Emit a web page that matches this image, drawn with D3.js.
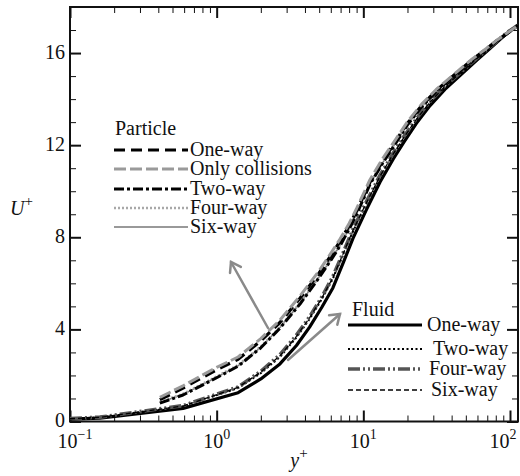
<!DOCTYPE html>
<html>
<head>
<meta charset="utf-8">
<script src="https://cdn.jsdelivr.net/npm/d3@7"></script>
<style>
  html, body { margin: 0; padding: 0; background: #fff; }
  svg { display: block; }
</style>
</head>
<body>
<svg id="chart" width="520" height="476"></svg>
<script>
// Mean streamwise velocity profiles in wall units
const fluidYPlus    = [0.1, 0.16, 0.59, 1.4, 2.0, 2.7, 3.5, 4.3, 5.2, 6.2, 7.3, 8.5, 10.5, 13, 16, 19, 23, 28.5, 36, 48, 60, 73, 85, 95, 105, 113.4];
const fluidOneWay   = [0.10, 0.15, 0.57, 1.25, 1.85, 2.5, 3.3, 4.1, 4.95, 5.8, 6.9, 7.95, 9.2, 10.4, 11.4, 12.15, 12.95, 13.72, 14.42, 15.15, 15.72, 16.2, 16.58, 16.85, 17.05, 17.2];
const fluidTwoWay   = [0.12, 0.18, 0.66, 1.45, 2.1, 2.8, 3.65, 4.45, 5.3, 6.2, 7.25, 8.25, 9.45, 10.6, 11.58, 12.32, 13.08, 13.84, 14.52, 15.22, 15.77, 16.24, 16.6, 16.87, 17.06, 17.2];
const fluidFourWay  = [0.13, 0.19, 0.69, 1.5, 2.18, 2.9, 3.75, 4.55, 5.4, 6.3, 7.35, 8.35, 9.55, 10.7, 11.66, 12.4, 13.15, 13.9, 14.57, 15.26, 15.8, 16.26, 16.62, 16.88, 17.07, 17.22];
const fluidSixWay   = [0.12, 0.18, 0.67, 1.48, 2.15, 2.85, 3.7, 4.5, 5.35, 6.25, 7.3, 8.3, 9.5, 10.65, 11.62, 12.36, 13.12, 13.87, 14.55, 15.24, 15.78, 16.25, 16.61, 16.87, 17.06, 17.2];

const particleYPlus      = [0.41, 0.59, 1.0, 1.4, 2.0, 2.7, 3.7, 5.0, 6.0, 6.9, 8, 9, 11.1, 13.5, 16.5, 20, 25, 32, 43, 55, 69, 82, 95, 105, 113.4];
const particleOneWay     = [0.95, 1.45, 2.25, 2.7, 3.5, 4.3, 5.35, 6.45, 7.2, 7.8, 8.5, 9.15, 10.4, 11.3, 12.15, 12.95, 13.72, 14.42, 15.12, 15.7, 16.18, 16.56, 16.84, 17.04, 17.2];
const particleCollisions = [1.05, 1.55, 2.35, 2.8, 3.6, 4.4, 5.45, 6.55, 7.3, 7.9, 8.6, 9.25, 10.5, 11.4, 12.22, 13.02, 13.78, 14.47, 15.16, 15.73, 16.2, 16.58, 16.86, 17.05, 17.2];
const particleTwoWay     = [0.8, 1.15, 1.9, 2.4, 3.2, 4.05, 5.1, 6.25, 7.0, 7.6, 8.35, 9.0, 10.3, 11.2, 12.05, 12.88, 13.66, 14.38, 15.08, 15.67, 16.16, 16.55, 16.83, 17.04, 17.2];
const particleFourWay    = [0.85, 1.2, 1.95, 2.45, 3.25, 4.1, 5.15, 6.3, 7.05, 7.65, 8.4, 9.05, 10.35, 11.25, 12.1, 12.92, 13.7, 14.4, 15.1, 15.69, 16.18, 16.56, 16.84, 17.04, 17.2];
const particleSixWay     = [0.82, 1.18, 1.92, 2.42, 3.22, 4.08, 5.12, 6.28, 7.02, 7.62, 8.38, 9.02, 10.32, 11.22, 12.08, 12.9, 13.68, 14.39, 15.09, 15.68, 16.17, 16.55, 16.84, 17.04, 17.2];

const xMajorTicks = [0.1, 1, 10, 100];
const xTickExponents = ["\u22121", "0", "1", "2"];
const yMajorTicks = [0, 4, 8, 12, 16];

const FONT = "'Liberation Serif', 'Times New Roman', Times, serif";
const svg = d3.select("#chart").attr("font-family", FONT);
const plotLeft = 70, plotRight = 518, plotTop = 7, plotBottom = 421.5;

const x = d3.scaleLog().domain([0.1, 113.4]).range([plotLeft, plotRight]);
const y = d3.scaleLinear().domain([0, 18]).range([plotBottom, plotTop]);

// minor tick values
const xMinor = [];
[0.1, 1, 10].forEach(d => { for (let k = 2; k <= 9; k++) xMinor.push(d * k); });
const yMinor = d3.range(0, 19).filter(v => v % 4 !== 0);

function tickAxis(axis, transform, size, values, width) {
  const g = svg.append("g").attr("transform", transform)
    .call(axis.tickValues(values).tickSize(size).tickSizeOuter(0).tickFormat(""));
  g.select(".domain").remove();
  g.selectAll("line").attr("stroke", "#111").attr("stroke-width", width);
  g.selectAll("text").remove();
  return g;
}

// inward ticks on all four sides
tickAxis(d3.axisLeft(y), `translate(${plotLeft},0)`, -11, yMajorTicks, 2);
tickAxis(d3.axisLeft(y), `translate(${plotLeft},0)`, -6, yMinor, 1);
tickAxis(d3.axisRight(y), `translate(${plotRight},0)`, -11, yMajorTicks, 2);
tickAxis(d3.axisRight(y), `translate(${plotRight},0)`, -6, yMinor, 1);
tickAxis(d3.axisBottom(x), `translate(0,${plotBottom})`, -11, xMajorTicks, 2);
tickAxis(d3.axisBottom(x), `translate(0,${plotBottom})`, -6, xMinor, 1);
tickAxis(d3.axisTop(x), `translate(0,${plotTop})`, -11, xMajorTicks, 2);
tickAxis(d3.axisTop(x), `translate(0,${plotTop})`, -6, xMinor, 1);

// frame
svg.append("rect").attr("x", plotLeft).attr("y", plotTop)
  .attr("width", plotRight - plotLeft).attr("height", plotBottom - plotTop)
  .attr("fill", "none").attr("stroke", "#111").attr("stroke-width", 2);

// y tick labels
svg.append("g").selectAll("text").data(yMajorTicks).join("text")
  .attr("x", plotLeft - 5).attr("y", d => y(d) - 1).attr("dy", "0.34em")
  .attr("text-anchor", "end").attr("font-size", 20).attr("fill", "#111").text(d => d);

// x tick labels as powers of ten, kept inside the page
const xl = svg.append("g").selectAll("text").data(xMajorTicks).join("text")
  .attr("x", d => Math.min(Math.max(x(d), plotLeft + 5), 503)).attr("y", 448)
  .attr("text-anchor", "middle").attr("font-size", 20).attr("fill", "#111");
xl.append("tspan").text("10");
xl.append("tspan").attr("font-size", 14).attr("dy", -9).text((d, i) => xTickExponents[i]);

// axis titles
const xt = svg.append("text").attr("x", 299).attr("y", 467).attr("text-anchor", "middle")
  .attr("font-size", 20).attr("fill", "#111");
xt.append("tspan").attr("font-style", "italic").text("y");
xt.append("tspan").attr("font-size", 15).attr("dy", -9).text("+");
const yt = svg.append("text").attr("x", 10).attr("y", 215).attr("font-size", 20).attr("fill", "#111");
yt.append("tspan").attr("font-style", "italic").text("U");
yt.append("tspan").attr("font-size", 15).attr("dy", -9).text("+");

// line styles
const styles = {
  fOne:  { stroke: "#000", width: 3.2, dash: null },
  fTwo:  { stroke: "#000", width: 2, dash: "2,2.5" },
  fFour: { stroke: "#555", width: 3.6, dash: "12,3,2,3,2,3" },
  fSix:  { stroke: "#000", width: 1.3, dash: "5,3" },
  pOne:  { stroke: "#000", width: 3.2, dash: "11,6" },
  pCol:  { stroke: "#9a9a9a", width: 3, dash: "12,4" },
  pTwo:  { stroke: "#000", width: 3, dash: "10,3,3,3" },
  pFour: { stroke: "#a8a8a8", width: 2.6, dash: "2,2" },
  pSix:  { stroke: "#777", width: 1.5, dash: null }
};

const series = [
  { xs: fluidYPlus, ys: fluidOneWay, s: styles.fOne },
  { xs: fluidYPlus, ys: fluidTwoWay, s: styles.fTwo },
  { xs: fluidYPlus, ys: fluidFourWay, s: styles.fFour },
  { xs: fluidYPlus, ys: fluidSixWay, s: styles.fSix },
  { xs: particleYPlus, ys: particleSixWay, s: styles.pSix },
  { xs: particleYPlus, ys: particleFourWay, s: styles.pFour },
  { xs: particleYPlus, ys: particleTwoWay, s: styles.pTwo },
  { xs: particleYPlus, ys: particleOneWay, s: styles.pOne },
  { xs: particleYPlus, ys: particleCollisions, s: styles.pCol }
];

const line = d3.line().x(d => x(d[0])).y(d => y(d[1]));
svg.append("clipPath").attr("id", "plotClip").append("rect")
  .attr("x", plotLeft).attr("y", plotTop).attr("width", plotRight - plotLeft).attr("height", plotBottom - plotTop);
const curves = svg.append("g").attr("clip-path", "url(#plotClip)");
series.forEach(sr => {
  curves.append("path")
    .datum(sr.xs.map((v, i) => [v, sr.ys[i]]))
    .attr("d", line).attr("fill", "none")
    .attr("stroke", sr.s.stroke).attr("stroke-width", sr.s.width)
    .attr("stroke-dasharray", sr.s.dash).attr("stroke-linejoin", "round");
});

// annotation arrows pointing to each group
function arrow(x1, y1, x2, y2) {
  const g = svg.append("g").attr("stroke", "#8a8a8a").attr("stroke-width", 2.5)
    .attr("fill", "none").attr("stroke-linecap", "round");
  g.append("line").attr("x1", x1).attr("y1", y1).attr("x2", x2).attr("y2", y2);
  const a = Math.atan2(y2 - y1, x2 - x1), L = 11, w = 0.6;
  g.append("polyline").attr("points", [
    [x2 - L * Math.cos(a - w), y2 - L * Math.sin(a - w)],
    [x2, y2],
    [x2 - L * Math.cos(a + w), y2 - L * Math.sin(a + w)]
  ].map(p => p.join(",")).join(" "));
}
arrow(268, 328, 231, 262);
arrow(288, 360, 340, 314);

// legends
function legend(title, tx, ty, lx0, lx1, rows) {
  svg.append("text").attr("x", tx).attr("y", ty).attr("font-size", 20).attr("fill", "#111").text(title);
  rows.forEach(r => {
    svg.append("line").attr("x1", lx0).attr("x2", lx1).attr("y1", r.y).attr("y2", r.y)
      .attr("stroke", r.s.stroke).attr("stroke-width", r.s.width)
      .attr("stroke-dasharray", r.s.dash);
    svg.append("text").attr("x", r.tx).attr("y", r.y).attr("dy", "0.3em")
      .attr("font-size", 20).attr("fill", "#111").text(r.label);
  });
}
legend("Particle", 115, 135, 114, 188, [
  { label: "One-way", s: styles.pOne, y: 150, tx: 190 },
  { label: "Only collisions", s: styles.pCol, y: 169, tx: 190 },
  { label: "Two-way", s: styles.pTwo, y: 189, tx: 190 },
  { label: "Four-way", s: styles.pFour, y: 208, tx: 190 },
  { label: "Six-way", s: styles.pSix, y: 227, tx: 190 }
]);
legend("Fluid", 352, 316, 348, 422, [
  { label: "One-way", s: styles.fOne, y: 325, tx: 427 },
  { label: "Two-way", s: styles.fTwo, y: 349, tx: 433 },
  { label: "Four-way", s: styles.fFour, y: 369, tx: 429 },
  { label: "Six-way", s: styles.fSix, y: 390, tx: 431 }
]);
</script>
</body>
</html>
